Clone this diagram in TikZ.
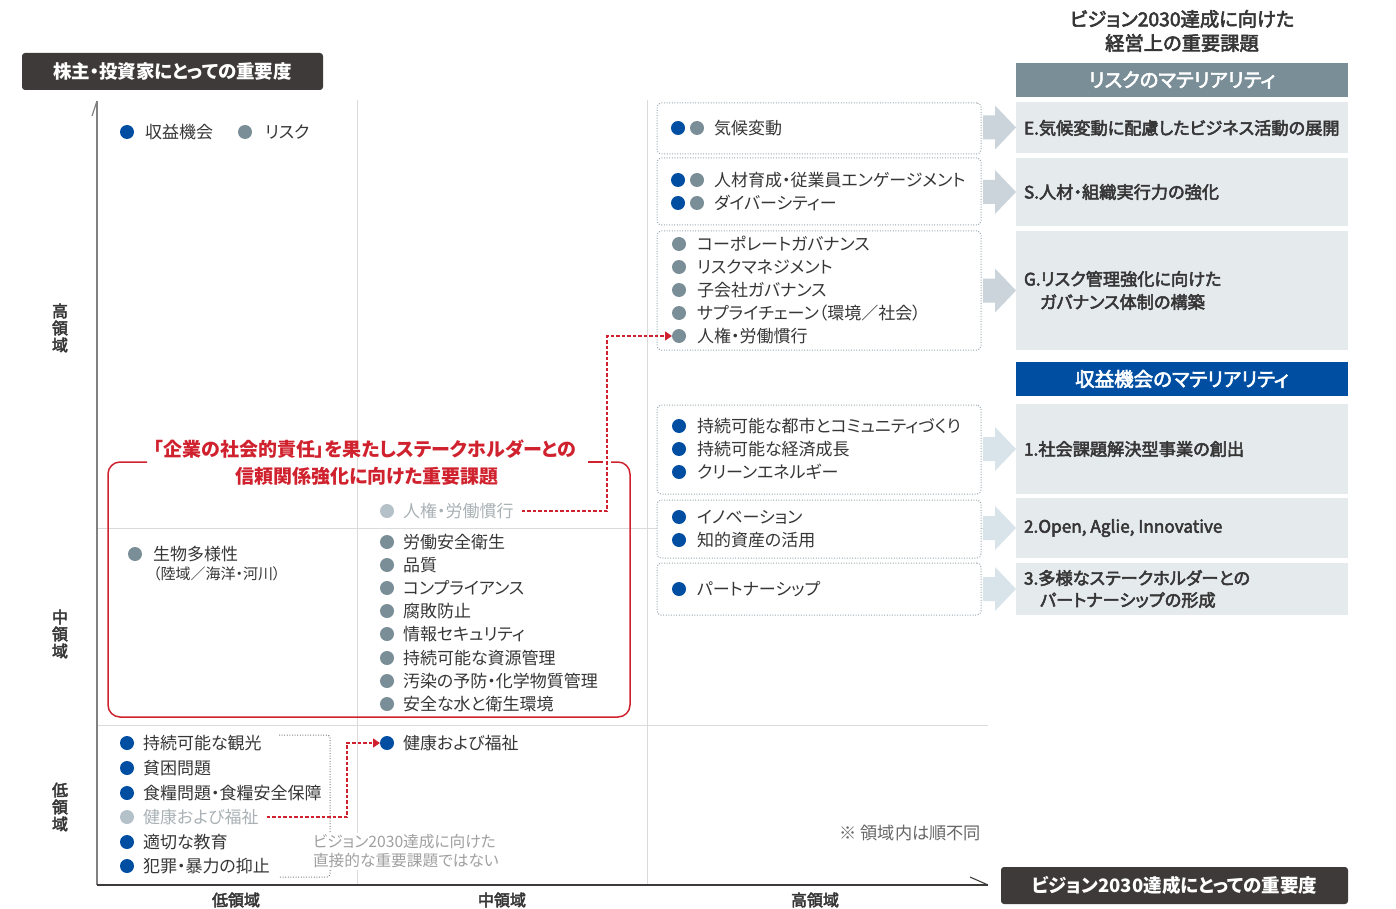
\documentclass[tikz,border=0pt]{standalone}
\usepackage{fontspec}
\setmainfont{Noto Sans CJK JP}[RawFeature=+palt]
\newfontfamily\medfont{Noto Sans CJK JP}[RawFeature=+palt, FakeBold=3]
\usetikzlibrary{arrows.meta,calc}
\definecolor{darkc}{HTML}{3E3A39}
\definecolor{txt}{HTML}{363636}
\definecolor{riskc}{HTML}{7A8E98}
\definecolor{oppc}{HTML}{004EA2}
\definecolor{lightbox}{HTML}{E5EAED}
\definecolor{arrowrisk}{HTML}{CAD4DA}
\definecolor{arrowopp}{HTML}{D9E3EA}
\definecolor{dotblue}{HTML}{004EA2}
\definecolor{dotgray}{HTML}{7A8E98}
\definecolor{dotlight}{HTML}{B4C1C8}
\definecolor{txtlight}{HTML}{A9B1B5}
\definecolor{redc}{HTML}{D0222E}
\definecolor{gridc}{HTML}{DADADA}
\definecolor{dotbord}{HTML}{9DAAB2}
\definecolor{notec}{HTML}{A0A0A0}
\definecolor{notec2}{HTML}{666666}
\begin{document}
\begin{tikzpicture}[x=1pt,y=-1pt,
  every node/.style={inner sep=0pt, outer sep=0pt},
  mdot/.style={circle, minimum size=14pt, inner sep=0pt},
  bdot/.style={mdot, fill=dotblue},
  gdot/.style={mdot, fill=dotgray},
  ldot/.style={mdot, fill=dotlight},
  itm/.style={anchor=west, text=txt, font=\fontsize{17}{20}\selectfont},
  litm/.style={itm, text=txtlight},
  darkbox/.style={fill=darkc, rounded corners=3pt, text=white, font=\bfseries\fontsize{18.5}{20}\selectfont},
  hdr/.style={minimum width=332pt, minimum height=34pt, text=white, font=\medfont\fontsize{19.5}{20}\selectfont},
  hdrtitle/.style={text=txt, font=\medfont\fontsize{19.3}{20}\selectfont},
  lbox/.style={fill=lightbox, anchor=north west, minimum width=332pt},
  rtext/.style={anchor=west, text=txt, font=\medfont\fontsize{17.2}{20}\selectfont},
  dbox/.style={draw=dotbord, line width=1pt, dash pattern=on 1pt off 1.6pt, rounded corners=4pt, fill=white, anchor=north west, minimum width=324pt},
  redtitle/.style={text=redc, font=\bfseries\fontsize{19}{20}\selectfont},
  reddash/.style={draw=redc, line width=1.4pt, dash pattern=on 3.5pt off 2pt},
  axlab/.style={text=txt, font=\medfont\fontsize{16}{17}\selectfont, align=center},
]
\useasboundingbox (0,0) rectangle (1396,909);

% grid
\draw[gridc, line width=1pt] (357,100) -- (357,885);
\draw[gridc, line width=1pt] (647,100) -- (647,885);
\draw[gridc, line width=1pt] (97,528) -- (988,528);
\draw[gridc, line width=1pt] (97,725) -- (988,725);

% axes
\coordinate (O) at (97,885);
\coordinate (Ytop) at (97,101);
\coordinate (Xend) at (988,885);
\draw[gray, line width=1.4pt] (Ytop) -- (O);
\draw[gray, line width=1.2pt] (Ytop) -- ++(-5,15);
\draw[darkc, line width=1.3pt] (O) -- (Xend);
\draw[darkc, line width=1.1pt] (Xend) -- ++(-18,-8);

% axis titles
\node[darkbox, minimum width=301pt, minimum height=37pt] (ytitle) at (172.5,71.5) {株主・投資家にとっての重要度};
\node[darkbox, minimum width=347pt, minimum height=37pt] (xtitle) at (1174.5,885.5) {ビジョン2030達成にとっての重要度};

% axis labels
\node[axlab] (yh) at (60,328) {高\\領\\域};
\node[axlab] (ym) at (60,634) {中\\領\\域};
\node[axlab] (yl) at (60,807) {低\\領\\域};
\node[axlab] (xl) at (236,900) {低領域};
\node[axlab] (xm) at (502,900) {中領域};
\node[axlab] (xh) at (815,900) {高領域};

% legend
\node[bdot] (lg1) at (127,132) {};
\node[itm] (lgt1) at (145,132) {収益機会};
\node[gdot] (lg2) at (245,132) {};
\node[itm] (lgt2) at (265,132) {リスク};

% right column
\node[hdrtitle] (vt1) at (1182,19) {ビジョン2030達成に向けた};
\node[hdrtitle] (vt2) at (1182,43) {経営上の重要課題};
\node[hdr, fill=riskc] (hrisk) at (1182,80) {リスクのマテリアリティ};
\node[lbox, minimum height=51pt] (rE) at (1016,102) {};
\node[lbox, minimum height=68pt] (rS) at (1016,158) {};
\node[lbox, minimum height=119pt] (rG) at (1016,231) {};
\node[hdr, fill=oppc] (hopp) at (1182,379) {収益機会のマテリアリティ};
\node[lbox, minimum height=90pt] (r1) at (1016,404) {};
\node[lbox, minimum height=60pt] (r2) at (1016,498) {};
\node[lbox, minimum height=52pt] (r3) at (1016,563) {};
\node[rtext] (tE) at (1024,128) {E.気候変動に配慮したビジネス活動の展開};
\node[rtext] (tS) at (1024,192) {S.人材・組織実行力の強化};
\node[rtext] (tG1) at (1024,279) {G.リスク管理強化に向けた};
\node[rtext] (tG2) at (1040,302) {ガバナンス体制の構築};
\node[rtext] (t1) at (1024,449) {1.社会課題解決型事業の創出};
\node[rtext] (t2) at (1024,528) {2.Open, Aglie, Innovative};
\node[rtext] (t3a) at (1024,578) {3.多様なステークホルダーとの};
\node[rtext] (t3b) at (1040,600) {パートナーシップの形成};

% dotted boxes
\node[dbox, minimum height=51pt] (bA) at (657,103) {};
\node[dbox, minimum height=67pt] (bB) at (657,158) {};
\node[dbox, minimum height=119pt] (bC) at (657,231) {};
\node[dbox, minimum height=89pt] (bD) at (657,405) {};
\node[dbox, minimum height=58pt] (bE) at (657,500) {};
\node[dbox, minimum height=52pt] (bF) at (657,563) {};

% block arrows
\foreach \r/\c in {rE/arrowrisk, rS/arrowrisk, rG/arrowrisk, r1/arrowopp, r2/arrowopp, r3/arrowopp}{
  \fill[\c] (\r.west) -- ++(-21,-22) -- ++(0,10) -- ++(-12,0) -- ++(0,24) -- ++(12,0) -- ++(0,10) -- cycle;
}

% box A
\node[bdot] (a1b) at (678,128) {};
\node[gdot] (a1g) at (697,128) {};
\node[itm] (a1t) at (714,128) {気候変動};
% box B
\foreach \yy/\t [count=\i] in {180/人材育成・従業員エンゲージメント, 203/ダイバーシティー}{
  \node[bdot] (b\i b) at (678,\yy) {};
  \node[gdot] (b\i g) at (697,\yy) {};
  \node[itm] (b\i t) at (714,\yy) {\t};
}
% box C
\foreach \yy/\t [count=\i] in {244/コーポレートガバナンス, 267/リスクマネジメント, 290/子会社ガバナンス, 313/サプライチェーン（環境／社会）, 336/人権・労働慣行}{
  \node[gdot] (c\i d) at (679,\yy) {};
  \node[itm] (c\i t) at (697,\yy) {\t};
}
% box D
\foreach \yy/\t [count=\i] in {426/持続可能な都市とコミュニティづくり, 449/持続可能な経済成長, 472/クリーンエネルギー}{
  \node[bdot] (d\i d) at (679,\yy) {};
  \node[itm] (d\i t) at (697,\yy) {\t};
}
% box E
\foreach \yy/\t [count=\i] in {517/イノベーション, 540/知的資産の活用}{
  \node[bdot] (e\i d) at (679,\yy) {};
  \node[itm] (e\i t) at (697,\yy) {\t};
}
% box F
\node[bdot] (f1d) at (679,589) {};
\node[itm] (f1t) at (697,589) {パートナーシップ};

% red box
\draw[redc, line width=1.5pt, rounded corners=12pt] (147,462) -- (108,462) -- (108,717) -- (630,717) -- (630,462) -- (611,462);
\draw[redc, line width=1.5pt] (603,462) -- (588,462);
\node[redtitle] (rt1) at (365,449) {「企業の社会的責任」を果たしステークホルダーとの};
\node[redtitle] (rt2) at (367,476) {信頼関係強化に向けた重要課題};

% middle column
\node[ldot] (hrd) at (387,511) {};
\node[litm] (hrt) at (403,511) {人権・労働慣行};
\foreach \yy/\t [count=\i] in {542/労働安全衛生, 565/品質, 588/コンプライアンス, 611/腐敗防止, 634/情報セキュリティ, 658/持続可能な資源管理, 681/汚染の予防・化学物質管理, 704/安全な水と衛生環境}{
  \node[gdot] (m\i d) at (387,\yy) {};
  \node[itm] (m\i t) at (403,\yy) {\t};
}
\node[gdot] (bio) at (135,554) {};
\node[itm] (biot) at (153,554) {生物多様性};
\node[itm, font=\fontsize{15}{16}\selectfont] (biot2) at (153,574) {（陸域／海洋・河川）};

% bottom-left
\draw[gray, line width=1pt, dash pattern=on 1pt off 1.6pt, rounded corners=3pt] (279,735) -- (330,735) -- (330,877) -- (279,877);
\foreach \yy/\t/\s [count=\i] in {743/持続可能な観光/bdot, 768/貧困問題/bdot, 793/食糧問題・食糧安全保障/bdot, 842/適切な教育/bdot, 866/犯罪・暴力の抑止/bdot}{
  \node[\s] (l\i d) at (127,\yy) {};
  \node[itm] (l\i t) at (143,\yy) {\t};
}
\node[ldot] (hwd) at (127,817) {};
\node[litm] (hwt) at (143,817) {健康および福祉};
\node[fill=white, inner xsep=2pt, inner ysep=2pt, anchor=west, align=left, text=notec, font=\fontsize{15.7}{19}\selectfont] (note1) at (311,851.5) {ビジョン2030達成に向けた\\直接的な重要課題ではない};
\node[bdot] (hw2d) at (387,743) {};
\node[itm] (hw2t) at (403,743) {健康および福祉};

\node[anchor=east, text=notec2, font=\fontsize{17.2}{18}\selectfont] (note2) at (981,833) {※ 領域内は順不同};

% red dashed connectors
\coordinate (k1) at (607,511);
\draw[reddash, -{Triangle[length=7pt,width=9pt]}] ($(hrt.east)+(8,0)$) -- (k1) |- (c5d.west);
\coordinate (k2) at (347,817);
\draw[reddash, -{Triangle[length=7pt,width=9pt]}] ($(hwt.east)+(8,0)$) -- (k2) |- (hw2d.west);

\end{tikzpicture}
\end{document}
